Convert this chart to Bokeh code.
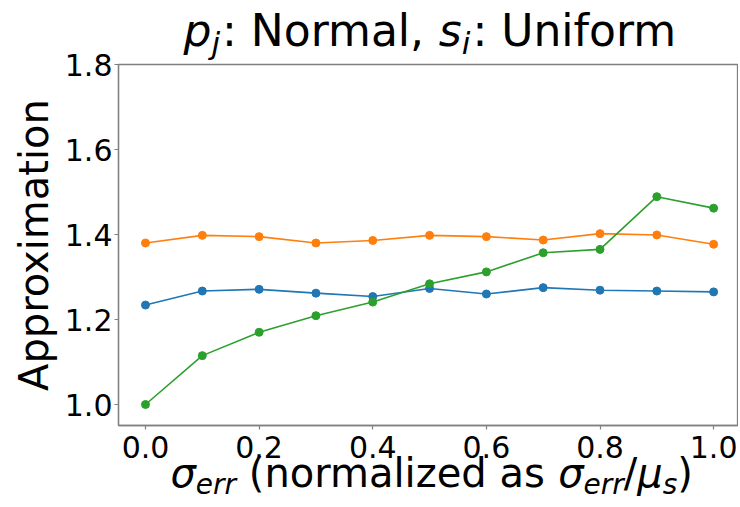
from bokeh.plotting import figure
from bokeh.models import Range1d, FixedTicker
from bokeh.layouts import column
from bokeh.core.properties import value
from bokeh.embed import file_html
from bokeh.resources import INLINE

# ---- data ----
sigma_err = [0.0, 0.1, 0.2, 0.3, 0.4, 0.5, 0.6, 0.7, 0.8, 0.9, 1.0]
series_blue = [1.234, 1.267, 1.271, 1.262, 1.254, 1.273, 1.260, 1.275, 1.269, 1.267, 1.265]
series_orange = [1.380, 1.398, 1.395, 1.380, 1.386, 1.398, 1.395, 1.387, 1.402, 1.399, 1.377]
series_green = [1.000, 1.115, 1.170, 1.209, 1.241, 1.284, 1.312, 1.357, 1.365, 1.489, 1.462]
x_ticks = [0.0, 0.2, 0.4, 0.6, 0.8, 1.0]
x_tick_labels = ["0.0", "0.2", "0.4", "0.6", "0.8", "1.0"]
y_ticks = [1.0, 1.2, 1.4, 1.6, 1.8]
y_tick_labels = ["1.0", "1.2", "1.4", "1.6", "1.8"]

FONT = "DejaVu Sans"
SPINE = "#808080"
COLORS = ["#1f77b4", "#ff7f0e", "#2ca02c"]
W_PX, H_PX = 738, 503
K = 0.41  # empirical baseline correction (fraction of font size)

p = figure(width=W_PX, height=H_PX, output_backend="svg", toolbar_location=None,
           title=None, x_range=Range1d(-0.0475, 1.042), y_range=Range1d(0.9506, 1.8),
           min_border_left=118, min_border_right=1, min_border_top=64,
           min_border_bottom=H_PX - 425)
p.frame_align = False
p.background_fill_color = "white"
p.border_fill_color = "white"
p.outline_line_color = SPINE
p.outline_line_width = 1.3
p.xgrid.grid_line_color = None
p.ygrid.grid_line_color = None

p.xaxis.ticker = FixedTicker(ticks=x_ticks)
p.yaxis.ticker = FixedTicker(ticks=y_ticks)
p.xaxis.major_label_overrides = dict(zip(x_ticks, x_tick_labels))
p.yaxis.major_label_overrides = dict(zip(y_ticks, y_tick_labels))
for ax in (p.xaxis[0], p.yaxis[0]):
    ax.axis_line_color = SPINE
    ax.axis_line_width = 1.3
    ax.major_tick_line_color = SPINE
    ax.major_tick_line_width = 1.2
    ax.major_tick_out = 4
    ax.major_tick_in = 0
    ax.minor_tick_line_color = None
    ax.major_label_text_font = FONT
    ax.major_label_text_font_size = "30px"
    ax.major_label_text_color = "#000000"
p.yaxis.major_label_standoff = 2
p.xaxis.major_label_standoff = 6

for ys, c in zip([series_blue, series_orange, series_green], COLORS):
    p.line(sigma_err, ys, line_color=c, line_width=1.6)
    p.scatter(sigma_err, ys, marker="circle", size=8, fill_color=c, line_color=c)

# ---- transparent overlay that carries the math-like texts (pixel coordinates) ----
o = figure(width=W_PX, height=H_PX, output_backend="svg", toolbar_location=None,
           title=None, x_range=Range1d(0, W_PX), y_range=Range1d(0, H_PX),
           x_axis_location=None, y_axis_location=None, min_border=0)
o.frame_align = False
o.min_border_left = o.min_border_right = o.min_border_top = o.min_border_bottom = 0
o.xgrid.grid_line_color = None
o.ygrid.grid_line_color = None
o.outline_line_color = None
o.background_fill_alpha = 0
o.border_fill_alpha = 0
o.margin = (-H_PX, 0, 0, 0)

W = {' ': 0.318, '(': 0.390, ')': 0.390, '/': 0.337, ':': 0.337, ',': 0.318,
     'N': 0.748, 'U': 0.732, 'A': 0.684,
     'a': 0.613, 'd': 0.635, 'e': 0.615, 'f': 0.352, 'i': 0.278, 'j': 0.278,
     'l': 0.278, 'm': 0.974, 'n': 0.634, 'o': 0.612, 'p': 0.635, 'r': 0.411,
     's': 0.521, 't': 0.392, 'x': 0.592, 'z': 0.525, 'σ': 0.634, 'μ': 0.636}


def text_width(s, size):
    return sum(W.get(ch, 0.6) for ch in s) * size


def rich(pieces, start_x, base_y_from_top):
    # leading spaces are collapsed in SVG text, so they become an explicit advance
    x = start_x
    for txt, style, size, drop, extra in pieces:
        lead = len(txt) - len(txt.lstrip(" "))
        x += lead * W[' '] * size
        body = txt.strip(" ")
        y_top = base_y_from_top + drop - K * size
        o.text(x=[x], y=[H_PX - y_top], text=[body],
               text_font=value(FONT), text_font_style=style,
               text_font_size=value(f"{size}px"), text_color="#000000",
               text_align="left", text_baseline="alphabetic")
        x += text_width(txt.lstrip(" "), size) + extra


TS, TSUB = 44, 31
title_pieces = [
    ("p", "italic", TS, 0, 0),
    ("j", "italic", TSUB, 7.5, 2),
    (": Normal, ", "normal", TS, 0, 0),
    ("s", "italic", TS, 0, 0),
    ("i", "italic", TSUB, 7.5, 2),
    (": Uniform", "normal", TS, 0, 0),
]
rich(title_pieces, 183, 48)

LS, LSUB = 40, 28
xlabel_pieces = [
    ("σ", "italic", LS, 0, 0),
    ("err", "italic", LSUB, 6.5, 0),
    (" (normalized as ", "normal", LS, 0, 0),
    ("σ", "italic", LS, 0, 0),
    ("err", "italic", LSUB, 6.5, 0),
    ("/", "normal", LS, 0, 0),
    ("μ", "italic", LS, 0, 0),
    ("s", "italic", LSUB, 6.5, 0),
    (")", "normal", LS, 0, 0),
]
rich(xlabel_pieces, 170, 489)

o.text(x=[50 - K * 40], y=[H_PX - 244.5], text=["Approximation"], angle=90,
       angle_units="deg", text_font=value(FONT), text_font_size=value("40px"),
       text_color="#000000", text_align="center", text_baseline="alphabetic")

layout = column(p, o, spacing=0)
open("out.html", "w").write(file_html(layout, INLINE))
